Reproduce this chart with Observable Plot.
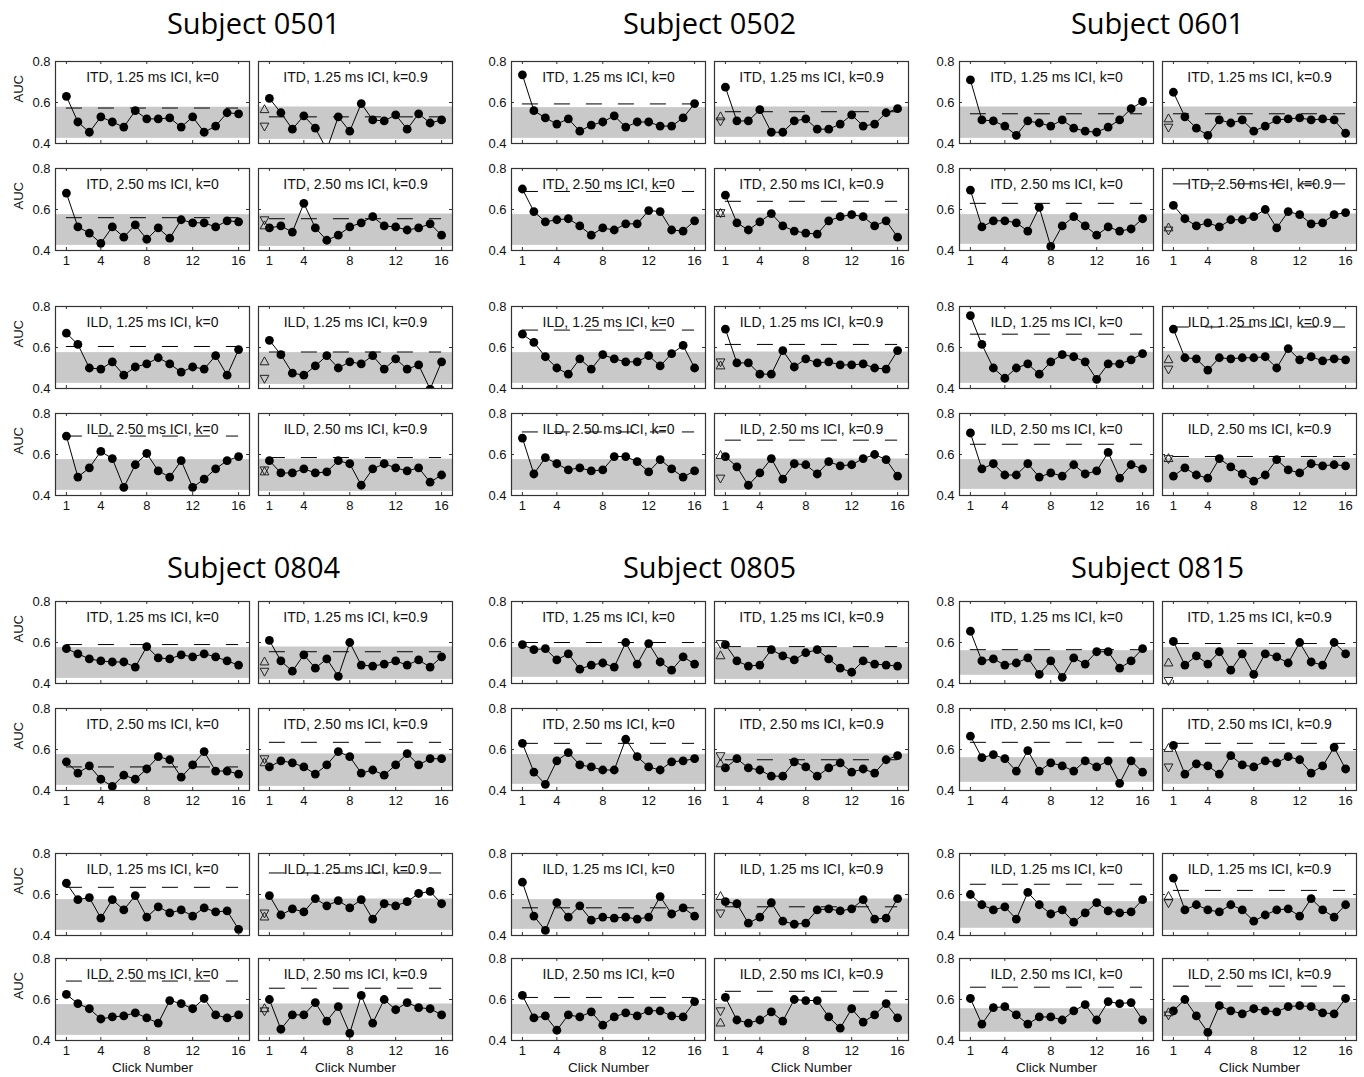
<!DOCTYPE html>
<html><head><meta charset="utf-8">
<script src="https://cdn.jsdelivr.net/npm/d3@7"></script>
<script src="https://cdn.jsdelivr.net/npm/@observablehq/plot@0.6"></script>
<style>
body{margin:0;background:#fff;}
#chart{position:relative;width:1364px;height:1077px;background:#fff;overflow:hidden;}
.subj{position:absolute;font-family:"Open Sans",sans-serif;font-size:29px;color:#000;text-align:center;width:400px;line-height:1;white-space:nowrap;}
.panel{position:absolute;}
.panel g[aria-label^="x-axis"], .panel g[aria-label^="y-axis"]{font-size:13px;}
</style></head><body><div id="chart"></div>
<script>
// ---------- data ----------
const subjects = ["0501", "0502", "0601", "0804", "0805", "0815"];
const conditions = ["ITD, 1.25 ms ICI", "ITD, 2.50 ms ICI", "ILD, 1.25 ms ICI", "ILD, 2.50 ms ICI"];
const kValues = ["k=0", "k=0.9"];
const clicks = [1, 2, 3, 4, 5, 6, 7, 8, 9, 10, 11, 12, 13, 14, 15, 16];
const xTicks = [1, 4, 8, 12, 16];
const yTicks = [0.4, 0.6, 0.8];

// panel order: ITD1.25 k0, ITD1.25 k0.9, ITD2.50 k0, ITD2.50 k0.9, ILD1.25 k0, ILD1.25 k0.9, ILD2.50 k0, ILD2.50 k0.9
const auc0501 = [
  [0.63, 0.505, 0.455, 0.53, 0.505, 0.48, 0.56, 0.52, 0.52, 0.525, 0.48, 0.53, 0.455, 0.485, 0.55, 0.545],
  [0.62, 0.55, 0.47, 0.535, 0.475, 0.37, 0.53, 0.46, 0.595, 0.515, 0.51, 0.54, 0.47, 0.545, 0.50, 0.515],
  [0.68, 0.515, 0.485, 0.435, 0.515, 0.465, 0.525, 0.455, 0.51, 0.46, 0.55, 0.535, 0.535, 0.515, 0.545, 0.54],
  [0.51, 0.52, 0.49, 0.63, 0.51, 0.45, 0.475, 0.515, 0.535, 0.565, 0.52, 0.515, 0.50, 0.51, 0.53, 0.475],
  [0.67, 0.615, 0.50, 0.495, 0.53, 0.465, 0.505, 0.52, 0.55, 0.52, 0.48, 0.505, 0.495, 0.56, 0.465, 0.59],
  [0.635, 0.565, 0.475, 0.465, 0.51, 0.56, 0.50, 0.53, 0.52, 0.56, 0.495, 0.545, 0.495, 0.515, 0.397, 0.53],
  [0.69, 0.49, 0.535, 0.615, 0.58, 0.44, 0.55, 0.605, 0.52, 0.49, 0.57, 0.44, 0.48, 0.53, 0.57, 0.59],
  [0.57, 0.51, 0.51, 0.53, 0.51, 0.515, 0.57, 0.555, 0.45, 0.53, 0.555, 0.535, 0.52, 0.535, 0.465, 0.50]
];
const dash0501 = [0.573, 0.53, 0.56, 0.555, 0.605, 0.578, 0.69, 0.585];
const band0501 = [[0.425, 0.577], [0.42, 0.578], [0.425, 0.575], [0.42, 0.578], [0.425, 0.575], [0.42, 0.575], [0.425, 0.575], [0.42, 0.577]];
const tri0501 = [[0.57, 0.48], [0.525, 0.545], [0.535, 0.445], [0.52, 0.52]];

const auc0502 = [
  [0.735, 0.56, 0.525, 0.495, 0.52, 0.46, 0.49, 0.505, 0.535, 0.48, 0.505, 0.505, 0.485, 0.485, 0.525, 0.595],
  [0.675, 0.51, 0.51, 0.565, 0.455, 0.455, 0.51, 0.52, 0.47, 0.47, 0.495, 0.54, 0.485, 0.495, 0.55, 0.57],
  [0.70, 0.59, 0.54, 0.55, 0.555, 0.52, 0.475, 0.51, 0.50, 0.53, 0.53, 0.595, 0.59, 0.50, 0.495, 0.545],
  [0.67, 0.535, 0.50, 0.54, 0.58, 0.52, 0.495, 0.485, 0.48, 0.545, 0.565, 0.575, 0.565, 0.52, 0.545, 0.465],
  [0.665, 0.625, 0.555, 0.50, 0.47, 0.545, 0.495, 0.565, 0.545, 0.53, 0.53, 0.56, 0.51, 0.57, 0.61, 0.50],
  [0.69, 0.525, 0.525, 0.47, 0.47, 0.585, 0.505, 0.545, 0.525, 0.53, 0.515, 0.515, 0.52, 0.50, 0.495, 0.585],
  [0.68, 0.505, 0.585, 0.555, 0.525, 0.535, 0.52, 0.525, 0.59, 0.59, 0.565, 0.515, 0.575, 0.53, 0.49, 0.52],
  [0.59, 0.54, 0.45, 0.51, 0.58, 0.48, 0.555, 0.55, 0.505, 0.565, 0.545, 0.55, 0.58, 0.60, 0.575, 0.495]
];
const dash0502 = [0.593, 0.555, 0.688, 0.64, 0.685, 0.615, 0.71, 0.67];
const band0502 = [[0.425, 0.575], [0.43, 0.578], [0.425, 0.575], [0.425, 0.578], [0.425, 0.575], [0.425, 0.578], [0.425, 0.575], [0.425, 0.578]];
const tri0502 = [[0.535, 0.505], [0.585, 0.58], [0.515, 0.525], [0.60, 0.48]];

const auc0601 = [
  [0.71, 0.515, 0.51, 0.485, 0.44, 0.51, 0.50, 0.485, 0.515, 0.475, 0.46, 0.455, 0.48, 0.515, 0.57, 0.605],
  [0.65, 0.53, 0.475, 0.44, 0.515, 0.50, 0.515, 0.46, 0.485, 0.515, 0.52, 0.525, 0.515, 0.52, 0.515, 0.45],
  [0.695, 0.515, 0.545, 0.545, 0.535, 0.495, 0.61, 0.42, 0.52, 0.565, 0.52, 0.475, 0.515, 0.495, 0.505, 0.555],
  [0.62, 0.555, 0.52, 0.535, 0.515, 0.55, 0.55, 0.565, 0.60, 0.51, 0.59, 0.575, 0.53, 0.535, 0.575, 0.585],
  [0.755, 0.615, 0.50, 0.45, 0.50, 0.52, 0.47, 0.53, 0.565, 0.555, 0.53, 0.445, 0.52, 0.52, 0.54, 0.57],
  [0.69, 0.55, 0.545, 0.49, 0.55, 0.545, 0.55, 0.55, 0.555, 0.50, 0.595, 0.54, 0.555, 0.535, 0.545, 0.54],
  [0.705, 0.53, 0.555, 0.50, 0.50, 0.555, 0.49, 0.51, 0.495, 0.55, 0.505, 0.52, 0.61, 0.485, 0.55, 0.53],
  [0.495, 0.535, 0.50, 0.485, 0.58, 0.54, 0.505, 0.47, 0.50, 0.575, 0.525, 0.51, 0.555, 0.545, 0.55, 0.545]
];
const dash0601 = [0.545, 0.545, 0.63, 0.725, 0.665, 0.70, 0.65, 0.59];
const band0601 = [[0.425, 0.578], [0.425, 0.578], [0.43, 0.575], [0.43, 0.578], [0.425, 0.577], [0.425, 0.58], [0.43, 0.575], [0.43, 0.58]];
const tri0601 = [[0.525, 0.475], [0.515, 0.495], [0.545, 0.49], [0.585, 0.575]];

const auc0804 = [
  [0.57, 0.545, 0.52, 0.51, 0.505, 0.505, 0.48, 0.58, 0.525, 0.52, 0.54, 0.53, 0.545, 0.53, 0.51, 0.49],
  [0.61, 0.51, 0.46, 0.54, 0.475, 0.52, 0.435, 0.60, 0.49, 0.485, 0.495, 0.51, 0.49, 0.515, 0.48, 0.53],
  [0.54, 0.485, 0.52, 0.455, 0.42, 0.475, 0.455, 0.505, 0.565, 0.55, 0.465, 0.525, 0.59, 0.495, 0.495, 0.48],
  [0.515, 0.545, 0.535, 0.515, 0.48, 0.525, 0.59, 0.565, 0.485, 0.50, 0.475, 0.525, 0.58, 0.525, 0.555, 0.555],
  [0.655, 0.575, 0.585, 0.485, 0.575, 0.525, 0.595, 0.49, 0.54, 0.51, 0.525, 0.495, 0.535, 0.515, 0.52, 0.43],
  [0.595, 0.50, 0.53, 0.515, 0.58, 0.545, 0.57, 0.535, 0.575, 0.48, 0.555, 0.545, 0.565, 0.605, 0.615, 0.555],
  [0.625, 0.58, 0.555, 0.505, 0.515, 0.52, 0.535, 0.51, 0.485, 0.595, 0.58, 0.555, 0.605, 0.525, 0.51, 0.525],
  [0.60, 0.455, 0.525, 0.525, 0.585, 0.495, 0.565, 0.435, 0.62, 0.485, 0.60, 0.55, 0.585, 0.56, 0.555, 0.525]
];
const dash0804 = [0.59, 0.555, 0.515, 0.635, 0.635, 0.705, 0.69, 0.655];
const band0804 = [[0.425, 0.575], [0.42, 0.578], [0.425, 0.575], [0.42, 0.578], [0.425, 0.575], [0.425, 0.578], [0.425, 0.575], [0.425, 0.578]];
const tri0804 = [[0.51, 0.455], [0.54, 0.55], [0.495, 0.505], [0.56, 0.54]];

const auc0805 = [
  [0.59, 0.565, 0.57, 0.515, 0.545, 0.47, 0.49, 0.50, 0.48, 0.60, 0.495, 0.595, 0.505, 0.465, 0.53, 0.495],
  [0.59, 0.51, 0.485, 0.49, 0.565, 0.535, 0.515, 0.55, 0.565, 0.52, 0.475, 0.455, 0.51, 0.495, 0.49, 0.485],
  [0.63, 0.49, 0.43, 0.545, 0.585, 0.525, 0.515, 0.50, 0.50, 0.65, 0.565, 0.515, 0.50, 0.54, 0.545, 0.555],
  [0.51, 0.555, 0.51, 0.50, 0.47, 0.47, 0.54, 0.515, 0.47, 0.51, 0.535, 0.49, 0.505, 0.485, 0.55, 0.57],
  [0.66, 0.495, 0.425, 0.56, 0.49, 0.545, 0.475, 0.49, 0.485, 0.49, 0.48, 0.49, 0.59, 0.505, 0.535, 0.495],
  [0.565, 0.555, 0.46, 0.49, 0.56, 0.47, 0.455, 0.46, 0.525, 0.53, 0.52, 0.53, 0.575, 0.48, 0.485, 0.58],
  [0.62, 0.51, 0.52, 0.45, 0.525, 0.515, 0.54, 0.475, 0.515, 0.535, 0.52, 0.545, 0.545, 0.52, 0.515, 0.59],
  [0.61, 0.50, 0.485, 0.50, 0.54, 0.495, 0.60, 0.595, 0.595, 0.515, 0.46, 0.555, 0.49, 0.525, 0.58, 0.51]
];
const dash0805 = [0.60, 0.58, 0.63, 0.55, 0.535, 0.54, 0.61, 0.64];
const band0805 = [[0.43, 0.575], [0.42, 0.575], [0.43, 0.575], [0.42, 0.578], [0.43, 0.575], [0.43, 0.578], [0.43, 0.575], [0.43, 0.578]];
const tri0805 = [[0.54, 0.59], [0.535, 0.565], [0.595, 0.505], [0.49, 0.54]];

const auc0815 = [
  [0.655, 0.51, 0.52, 0.49, 0.50, 0.525, 0.445, 0.51, 0.43, 0.525, 0.495, 0.555, 0.555, 0.475, 0.51, 0.57],
  [0.605, 0.49, 0.535, 0.495, 0.555, 0.465, 0.545, 0.445, 0.545, 0.53, 0.50, 0.60, 0.505, 0.49, 0.60, 0.545],
  [0.665, 0.56, 0.575, 0.555, 0.495, 0.595, 0.495, 0.535, 0.52, 0.495, 0.545, 0.515, 0.545, 0.435, 0.545, 0.49],
  [0.62, 0.48, 0.53, 0.52, 0.48, 0.57, 0.525, 0.515, 0.545, 0.535, 0.565, 0.55, 0.485, 0.52, 0.61, 0.505],
  [0.60, 0.55, 0.525, 0.54, 0.48, 0.61, 0.55, 0.505, 0.525, 0.465, 0.51, 0.56, 0.52, 0.51, 0.515, 0.575],
  [0.68, 0.525, 0.55, 0.525, 0.515, 0.55, 0.525, 0.47, 0.50, 0.525, 0.53, 0.495, 0.58, 0.525, 0.49, 0.55],
  [0.605, 0.48, 0.56, 0.565, 0.525, 0.48, 0.515, 0.515, 0.50, 0.545, 0.575, 0.50, 0.59, 0.58, 0.585, 0.50],
  [0.545, 0.60, 0.52, 0.44, 0.57, 0.545, 0.53, 0.555, 0.545, 0.54, 0.565, 0.57, 0.565, 0.535, 0.53, 0.605]
];
const dash0815 = [0.565, 0.595, 0.635, 0.63, 0.65, 0.62, 0.66, 0.665];
const band0815 = [[0.44, 0.56], [0.43, 0.575], [0.44, 0.56], [0.43, 0.59], [0.435, 0.565], [0.425, 0.58], [0.44, 0.555], [0.42, 0.585]];
const tri0815 = [[0.505, 0.41], [0.61, 0.51], [0.595, 0.555], [0.54, 0.52]];

const aucAll = [auc0501, auc0502, auc0601, auc0804, auc0805, auc0815];
const dashAll = [dash0501, dash0502, dash0601, dash0804, dash0805, dash0815];
const bandAll = [band0501, band0502, band0601, band0804, band0805, band0815];
const triAll = [tri0501, tri0502, tri0601, tri0804, tri0805, tri0815];

// ---------- layout ----------
const W = 194, H = 82;
const colX = [55, 511, 959];
const rightOffset = 203;
const rowTopsUpper = [61, 168, 306, 413];
const rowTopsLower = [601, 708, 853, 958];
const titleY = [8, 552];
const mL = 45, mR = 6, mT = 6, mB = 36;
const xDomain = [0.05, 16.95];
const yDomain = [0.4, 0.8];

const triUp = {draw(ctx, size) { const s = Math.sqrt(size / Math.PI); const w = s, h = 0.9 * s; ctx.moveTo(0, -h); ctx.lineTo(w, h); ctx.lineTo(-w, h); ctx.closePath(); }};
const triDown = {draw(ctx, size) { const s = Math.sqrt(size / Math.PI); const w = s, h = 0.9 * s; ctx.moveTo(0, h); ctx.lineTo(w, -h); ctx.lineTo(-w, -h); ctx.closePath(); }};

const chart = document.getElementById("chart");

subjects.forEach((sid, si) => {
  const gc = si % 3, gr = Math.floor(si / 3);
  const left = colX[gc];
  const title = document.createElement("div");
  title.className = "subj";
  title.textContent = "Subject " + sid;
  title.style.left = (left + (rightOffset + W) / 2 - 200) + "px";
  title.style.top = titleY[gr] + "px";
  chart.appendChild(title);
  const rowTops = gr === 0 ? rowTopsUpper : rowTopsLower;

  for (let row = 0; row < 4; row++) {
    for (let col = 0; col < 2; col++) {
      const p = row * 2 + col;
      const vals = aucAll[si][p];
      const data = clicks.map((c, i) => ({click: c, auc: vals[i]}));
      const [lo, hi] = bandAll[si][p];
      const marks = [
        Plot.rect([{lo, hi}], {x1: () => xDomain[0], x2: () => xDomain[1], y1: "lo", y2: "hi", fill: "#c9c9c9"}),
        Plot.ruleY([dashAll[si][p]], {y: d => d, x1: () => clicks[0], x2: () => clicks[clicks.length - 1], stroke: "#000", strokeWidth: 1, strokeDasharray: "16,16"}),
        Plot.line(data, {x: "click", y: "auc", stroke: "#000", strokeWidth: 1, clip: true}),
        Plot.dot(data, {x: "click", y: "auc", r: 4.4, fill: "#000", stroke: "none", clip: true}),
        Plot.text([`${conditions[row]}, ${kValues[col]}`], {frameAnchor: "top", dy: 11, fontSize: 14, fill: "#111"}),
        Plot.tickX(xTicks, {x: d => d, insetTop: H - 3, stroke: "#333"}),
        Plot.tickX(xTicks, {x: d => d, insetBottom: H - 3, stroke: "#333"}),
        Plot.tickY(yTicks, {y: d => d, insetRight: W - 3, stroke: "#333"}),
        Plot.tickY(yTicks, {y: d => d, insetLeft: W - 3, stroke: "#333"}),
        Plot.frame({stroke: "#333", strokeWidth: 1.2})
      ];
      if (col === 1) {
        const t = triAll[si][row];
        marks.push(Plot.dot([t], {y: d => d[0], frameAnchor: "left", dx: 6, symbol: triUp, r: 4.4, fill: "none", stroke: "#222", strokeWidth: 1}));
        marks.push(Plot.dot([t], {y: d => d[1], frameAnchor: "left", dx: 6, symbol: triDown, r: 4.4, fill: "none", stroke: "#222", strokeWidth: 1}));
      }
      if (col === 0 && gc === 0) {
        marks.push(Plot.text(["AUC"], {frameAnchor: "left", dx: -37, rotate: -90, fontSize: 13, fill: "#111"}));
      }
      if (gr === 1 && row === 3) {
        marks.push(Plot.text(["Click Number"], {frameAnchor: "bottom", dy: 31, fontSize: 13.5, fill: "#111"}));
      }
      const svg = Plot.plot({
        width: mL + W + mR,
        height: mT + H + mB,
        marginLeft: mL, marginRight: mR, marginTop: mT, marginBottom: mB,
        style: {background: "transparent", overflow: "visible", fontFamily: "'Liberation Sans', Arial, sans-serif", fontSize: "13px", color: "#111", maxWidth: "none"},
        x: {domain: xDomain, ticks: xTicks, tickSize: 0, tickPadding: 5, axis: (row % 2 === 1) ? "bottom" : null, label: null},
        y: {domain: yDomain, ticks: yTicks, tickSize: 0, tickPadding: 5, tickFormat: ".1f", axis: col === 0 ? "left" : null, label: null},
        marks
      });
      svg.classList.add("panel");
      svg.style.position = "absolute";
      svg.style.left = (left + col * rightOffset - mL) + "px";
      svg.style.top = (rowTops[row] - mT) + "px";
      chart.appendChild(svg);
    }
  }
});
</script>
</body></html>
